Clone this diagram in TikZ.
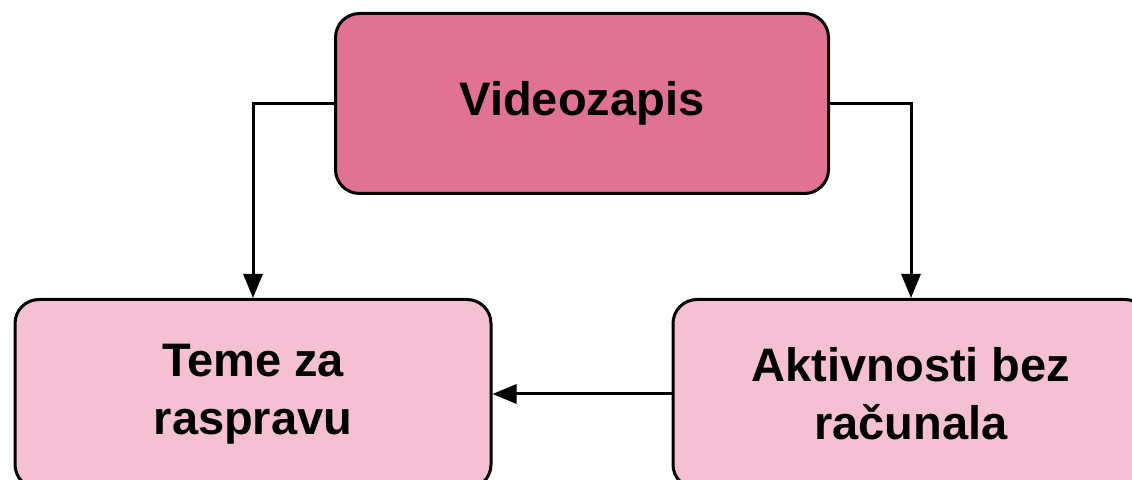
\documentclass[tikz,border=0pt]{standalone}
\usepackage{fontspec}
\setmainfont{Liberation Sans}
\usetikzlibrary{arrows.meta, positioning}

\definecolor{videopink}{HTML}{E07294}
\definecolor{lightpink}{HTML}{F5C0D3}

\tikzset{
    box/.style={draw=black, line width=1.5pt, rounded corners=12pt,
        minimum width=238pt, minimum height=90pt, inner sep=0pt,
        align=center, font=\fontsize{23.5}{29}\selectfont\bfseries},
    link/.style={-{Triangle[length=12pt, width=9.5pt]}, line width=1.5pt}
}

\begin{document}
\begin{tikzpicture}[x=0.5pt, y=-0.5pt]
    \useasboundingbox (0,0) rectangle (1132,480);
    \clip (0,0) rectangle (1132,480);

    % Boxes
    \node[box, fill=videopink, minimum width=246.5pt] (video) at (582,103.5) {Videozapis};
    \node[box, fill=lightpink, minimum height=94.5pt] (teme) at (253,394) {Teme za\\raspravu};
    \node[box, fill=lightpink, minimum height=94.5pt] (aktiv) at (911,394) {Aktivnosti bez\\računala};

    % Connectors
    \draw[link] (video.west) -| (teme.north);
    \draw[link] (video.east) -| (aktiv.north);
    \draw[link] (aktiv.west) -- (teme.east);
\end{tikzpicture}
\end{document}
